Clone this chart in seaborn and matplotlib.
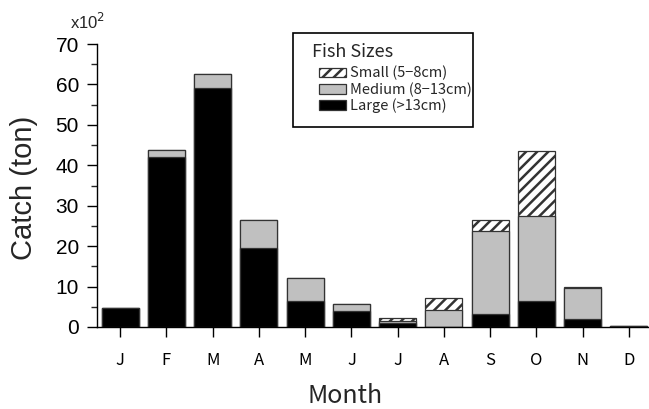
import matplotlib
matplotlib.use("Agg")
import matplotlib.pyplot as plt
from matplotlib.patches import Patch, Rectangle
from matplotlib.ticker import MultipleLocator
import pandas as pd
import seaborn as sns

# Monthly catch by fish size, in units of 10^2 ton
months = ["Jan", "Feb", "Mar", "Apr", "May", "Jun",
          "Jul", "Aug", "Sep", "Oct", "Nov", "Dec"]
month_labels = ["J", "F", "M", "A", "M", "J", "J", "A", "S", "O", "N", "D"]
large = [4.6, 42.0, 59.0, 19.5, 6.5, 4.0, 1.1, 0.0, 3.1, 6.5, 2.1, 0.3]
medium = [0.0, 1.8, 3.5, 7.0, 5.5, 1.7, 0.4, 4.3, 20.6, 20.9, 7.5, 0.0]
small = [0.0, 0.0, 0.0, 0.0, 0.0, 0.0, 0.8, 2.9, 2.7, 16.1, 0.3, 0.0]
size_labels = ["Small (5\u22128cm)", "Medium (8\u221213cm)", "Large (>13cm)"]

sns.set_theme(style="white")
plt.rcParams["font.family"] = ["Liberation Sans", "DejaVu Sans"]
plt.rcParams["hatch.linewidth"] = 1.8
jp = ["Noto Sans CJK JP", "DejaVu Sans"]

df = pd.DataFrame({"month": months, "large": large,
                   "medium": medium, "small": small})
df["lm"] = df["large"] + df["medium"]
df["total"] = df["lm"] + df["small"]

W, H = 649, 409
fig = plt.figure(figsize=(W / 100, H / 100), dpi=100)
ax = fig.add_axes([97 / W, 1 - 327 / H, (652 - 97) / W, (327 - 44) / H])

edge = "#333333"
lw = 0.9
# stacked bars drawn as overlapping cumulative layers
sns.barplot(data=df, x="month", y="total", color="white", saturation=1,
            edgecolor=edge, linewidth=lw, hatch="///", width=0.8, ax=ax)
sns.barplot(data=df, x="month", y="lm", color="#c0c0c0", saturation=1,
            edgecolor=edge, linewidth=lw, width=0.8, ax=ax)
sns.barplot(data=df, x="month", y="large", color="black", saturation=1,
            edgecolor=edge, linewidth=lw, width=0.8, ax=ax)

ax.set_xlim(-0.5, 11.5)
ax.set_ylim(0, 70)
ax.yaxis.set_major_locator(MultipleLocator(10))
ax.yaxis.set_minor_locator(MultipleLocator(5))
ax.set_xticks(range(len(months)))
ax.set_xticklabels(month_labels, family=jp, fontsize=12)
for lab in ax.get_yticklabels():
    lab.set_fontsize(15)
ax.tick_params(axis="y", which="major", direction="out", length=7, width=1,
               pad=6, left=True, colors="black")
ax.tick_params(axis="y", which="minor", direction="out", length=4, width=1,
               left=True)
ax.tick_params(axis="x", which="major", direction="out", length=7, width=1,
               pad=11, bottom=True, colors="black")
ax.set_xlabel("")
ax.set_ylabel("")
sns.despine(ax=ax)
for s in ("left", "bottom"):
    ax.spines[s].set_color("black")
    ax.spines[s].set_linewidth(1.0)

fig.text(24 / W, 1 - 188 / H, "Catch (ton)", rotation=90,
         ha="center", va="center", fontsize=21)
fig.text(345 / W, 1 - 403 / H, "Month", family=jp, fontsize=18,
         ha="center", va="baseline")
fig.text(70 / W, 1 - 29 / H, r"x10$^{2}$", fontsize=12,
         ha="left", va="baseline")

# legend: frame and title placed explicitly, entries indented under the title
fig.patches.append(Rectangle((293 / W, 1 - 127 / H), (473 - 293) / W,
                             (127 - 33) / H, transform=fig.transFigure,
                             facecolor="white", edgecolor="black",
                             linewidth=1.2, zorder=5))
fig.text(312 / W, 1 - 52 / H, "Fish Sizes", family=jp, fontsize=13,
         ha="left", va="center", zorder=6)
handles = [Patch(facecolor="white", edgecolor=edge, hatch="///", linewidth=lw),
           Patch(facecolor="#c0c0c0", edgecolor=edge, linewidth=lw),
           Patch(facecolor="black", edgecolor=edge, linewidth=lw)]
leg = fig.legend(handles, size_labels, loc="upper left",
                 bbox_to_anchor=(319 / W, 1 - 66 / H),
                 bbox_transform=fig.transFigure, borderaxespad=0,
                 borderpad=0, frameon=False,
                 prop={"family": jp, "size": 10.5},
                 handlelength=1.85, handleheight=0.65,
                 handletextpad=0.3, labelspacing=0.12)
leg.set_zorder(7)

fig.savefig("out.png", dpi=100)
